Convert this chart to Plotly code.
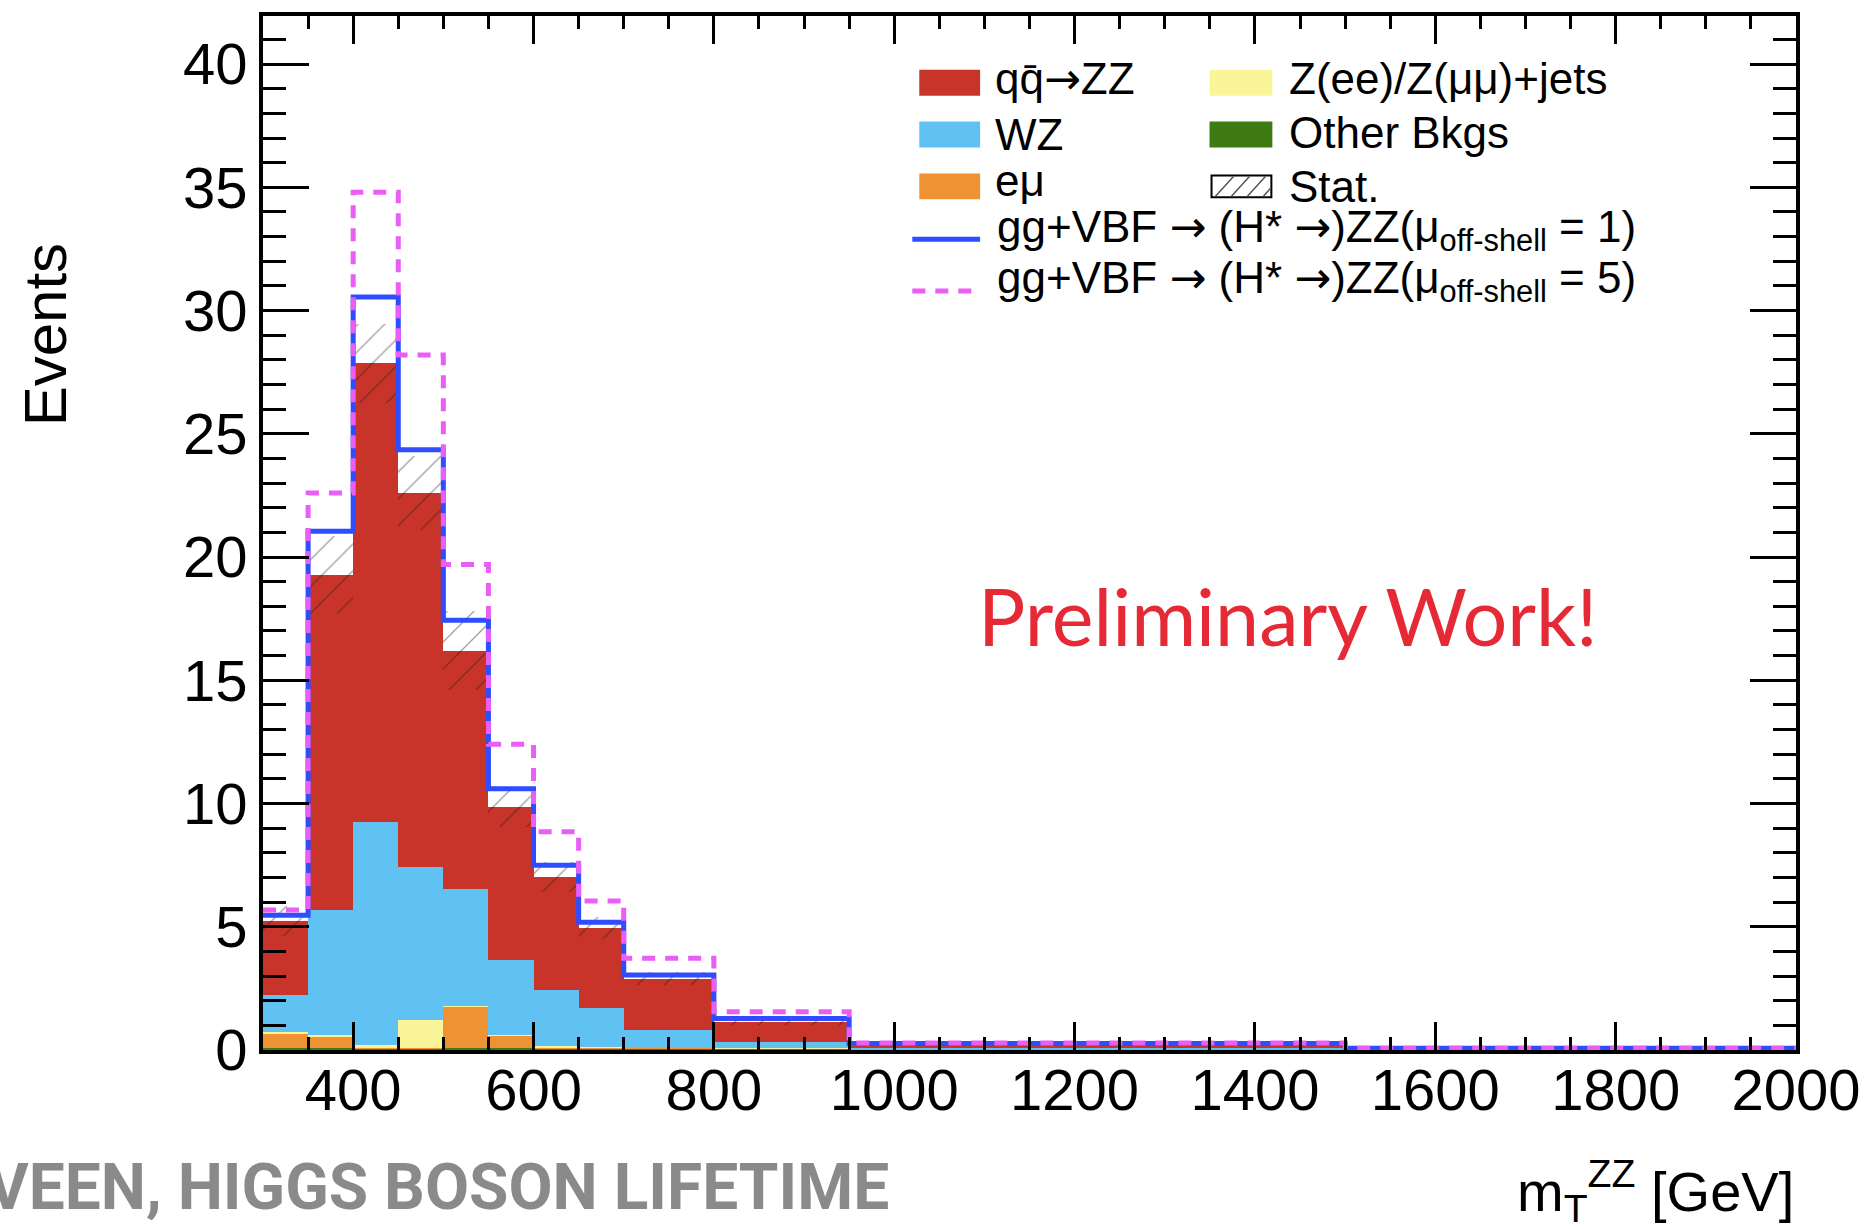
import plotly.graph_objects as go

# ---------------- data ----------------
bin_edges = [300, 350, 400, 450, 500, 550, 600, 650, 700, 800, 950, 1500, 2000]
# cumulative stack tops (Events), bottom -> top: Other, e-mu, Z+jets, WZ, qq->ZZ
other_top = [0.08, 0.08, 0.08, 0.08, 0.08, 0.08, 0.08, 0.07, 0.06, 0.05, 0.04, 0.02]
emu_top   = [0.67, 0.54, 0.10, 0.10, 1.76, 0.58, 0.12, 0.10, 0.09, 0.08, 0.05, 0.02]
zjets_top = [0.74, 0.60, 0.20, 1.20, 1.79, 0.62, 0.15, 0.12, 0.10, 0.09, 0.05, 0.02]
wz_top    = [2.23, 5.68, 9.26, 7.43, 6.55, 3.65, 2.43, 1.69, 0.81, 0.33, 0.08, 0.03]
qqzz_top  = [5.24, 19.27, 27.86, 22.60, 16.20, 9.86, 7.03, 4.96, 2.90, 1.15, 0.20, 0.05]
stat_err  = [0.60, 1.60, 1.60, 1.50, 1.60, 0.80, 0.60, 0.45, 0.27, 0.13, 0.05, 0.02]
sig_mu1   = [5.47, 21.05, 30.55, 24.35, 17.44, 10.60, 7.50, 5.18, 3.04, 1.28, 0.26, 0.07]
sig_mu5   = [5.68, 22.60, 34.80, 28.20, 19.70, 12.40, 8.85, 6.05, 3.72, 1.55, 0.28, 0.07]

x_range = [300, 2000]
y_range = [0, 41.95]

# ---------------- styling ----------------
FONT = "Liberation Sans"
C_QQZZ = "#c8342a"
C_WZ = "#5fc2f2"
C_EMU = "#ee9234"
C_ZJ = "#fbf59a"
C_OTH = "#3f7a12"
C_MU1 = "#2f4cff"
C_MU5 = "#ea5ef5"

centers = [(a + b) / 2 for a, b in zip(bin_edges[:-1], bin_edges[1:])]
widths = [b - a for a, b in zip(bin_edges[:-1], bin_edges[1:])]

fig = go.Figure()

layers = [
    ("Other Bkgs", [0] * len(other_top), other_top, C_OTH),
    ("e\u03bc", other_top, emu_top, C_EMU),
    ("Z(ee)/Z(\u03bc\u03bc)+jets", emu_top, zjets_top, C_ZJ),
    ("WZ", zjets_top, wz_top, C_WZ),
    ("qq\u0304\u2192ZZ", wz_top, qqzz_top, C_QQZZ),
]
for name, lo, hi, col in layers:
    fig.add_trace(go.Bar(
        x=centers, width=widths, base=lo,
        y=[h - l for h, l in zip(hi, lo)],
        marker=dict(color=col, line=dict(width=0)),
        name=name, showlegend=False, hoverinfo="skip",
    ))

# stat band (hatched)
fig.add_trace(go.Bar(
    x=centers, width=widths,
    base=[t - e for t, e in zip(qqzz_top, stat_err)],
    y=[2 * e for e in stat_err],
    marker=dict(color="rgba(0,0,0,0)", line=dict(width=0),
                pattern=dict(shape="/", fgcolor="rgba(25,25,25,0.85)",
                             bgcolor="rgba(0,0,0,0)", size=19, solidity=0.07)),
    showlegend=False, hoverinfo="skip", name="Stat.",
))

fig.add_trace(go.Scatter(
    x=bin_edges, y=sig_mu1 + [sig_mu1[-1]], mode="lines",
    line=dict(color=C_MU1, width=5, shape="hv"), showlegend=False, hoverinfo="skip",
))
fig.add_trace(go.Scatter(
    x=bin_edges, y=sig_mu5 + [sig_mu5[-1]], mode="lines",
    line=dict(color=C_MU5, width=5, shape="hv", dash="13px,10px"),
    showlegend=False, hoverinfo="skip",
))

# ---------------- layout ----------------
W, H = 1873, 1229
L, R, T, B = 263, 1800, 12, 1050


def px(x):
    return (x - L) / (R - L)


def py(y):
    return (B - y) / (B - T)


fig.update_layout(
    width=W, height=H,
    margin=dict(l=L, r=W - R, t=T, b=H - B, pad=0),
    paper_bgcolor="white", plot_bgcolor="white",
    barmode="overlay", bargap=0,
    font=dict(family=FONT, color="black"),
    showlegend=False,
)
fig.update_xaxes(
    range=x_range, tick0=0, dtick=200, ticks="inside", ticklen=28, tickwidth=3,
    tickcolor="black", showline=True, linewidth=4, linecolor="black", mirror="ticks",
    showgrid=False, zeroline=False, ticklabelstandoff=-14,
    tickfont=dict(family=FONT, size=58, color="black"),
    minor=dict(dtick=50, ticks="inside", ticklen=13, tickwidth=3, tickcolor="black", showgrid=False),
)
fig.update_yaxes(
    range=y_range, tick0=0, dtick=5, ticks="inside", ticklen=46, tickwidth=3,
    tickcolor="black", showline=True, linewidth=4, linecolor="black", mirror="ticks",
    showgrid=False, zeroline=False,
    tickfont=dict(family=FONT, size=58, color="black"),
    minor=dict(dtick=1, ticks="inside", ticklen=23, tickwidth=3, tickcolor="black", showgrid=False),
)

shapes = []
ann = []

# axis titles
ann.append(dict(text="Events", x=px(45), y=py(332), xref="paper", yref="paper",
                textangle=-90, showarrow=False, xanchor="center", yanchor="middle",
                font=dict(family=FONT, size=60, color="black")))
ann.append(dict(text="m<sub>T</sub><sup>ZZ</sup> [GeV]", x=1.0, y=py(1192), xref="paper", yref="paper",
                showarrow=False, xanchor="right", yanchor="middle",
                font=dict(family=FONT, size=56, color="black")))

# Preliminary text
ann.append(dict(text="Preliminary Work!", x=px(1290), y=py(614), xref="paper", yref="paper",
                showarrow=False, xanchor="center", yanchor="middle",
                font=dict(family="Lato", size=79, color="#e52a35")))

# footer
ann.append(dict(text="VEEN, HIGGS BOSON LIFETIME", x=px(893), y=py(1188), xref="paper", yref="paper",
                showarrow=False, xanchor="right", yanchor="middle",
                font=dict(family="Roboto", size=64, color="#8a8a8a", weight="bold")))

# ---------------- manual legend ----------------
LEG = 44
ARR = "<span style='font-family:DejaVu Sans'>\u2192</span>"


def box(x0, x1, yc, col):
    shapes.append(dict(type="rect", xref="paper", yref="paper",
                       x0=px(x0), x1=px(x1), y0=py(yc + 13), y1=py(yc - 13),
                       fillcolor=col, line=dict(width=0)))


def label(x, yc, text):
    ann.append(dict(text=text, x=px(x), y=py(yc), xref="paper", yref="paper",
                    showarrow=False, xanchor="left", yanchor="middle",
                    font=dict(family=FONT, size=LEG, color="black")))


rows = [79, 131, 183]
box(921, 982, rows[0], C_QQZZ); label(995, rows[0] - 4, "qq\u0304" + ARR + "ZZ")
box(921, 982, rows[1], C_WZ); label(995, rows[1], "WZ")
box(921, 982, rows[2], C_EMU); label(995, rows[2] - 6, "e\u03bc")
box(1212, 1275, rows[0], C_ZJ); label(1290, rows[0] - 4, "Z(ee)/Z(\u03bc\u03bc)+jets")
box(1212, 1275, rows[1], C_OTH); label(1290, rows[1] - 2, "Other Bkgs")
# stat swatch with hatching
shapes.append(dict(type="rect", xref="paper", yref="paper",
                   x0=px(1214), x1=px(1274), y0=py(rows[2] + 11), y1=py(rows[2] - 11),
                   fillcolor="white", line=dict(color="black", width=2)))
for k in range(4):
    xa = 1214 + 4 + k * 16
    xb = min(xa + 18, 1273)
    shapes.append(dict(type="line", xref="paper", yref="paper",
                       x0=px(xa), y0=py(rows[2] + 10), x1=px(xb),
                       y1=py(rows[2] + 10 - (xb - xa) * 20 / 18),
                       line=dict(color="#555", width=1.5)))
label(1290, rows[2], "Stat.")

shapes.append(dict(type="line", xref="paper", yref="paper",
                   x0=px(914), x1=px(982), y0=py(236), y1=py(236),
                   line=dict(color=C_MU1, width=5)))
shapes.append(dict(type="line", xref="paper", yref="paper",
                   x0=px(914), x1=px(982), y0=py(288), y1=py(288),
                   line=dict(color=C_MU5, width=5, dash="13px,10px")))
label(997, 226, "gg+VBF " + ARR + " (H* " + ARR + ")ZZ(\u03bc<sub>off-shell</sub> = 1)")
label(997, 278, "gg+VBF " + ARR + " (H* " + ARR + ")ZZ(\u03bc<sub>off-shell</sub> = 5)")

fig.update_layout(shapes=shapes, annotations=ann)

fig.write_html("out.html")
